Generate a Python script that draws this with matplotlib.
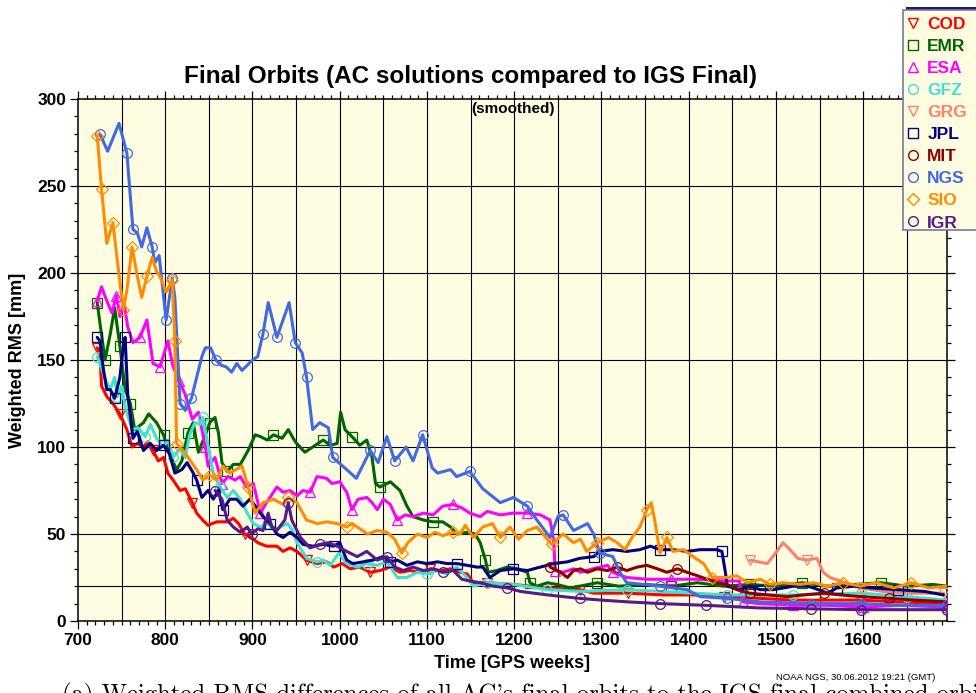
import matplotlib
matplotlib.use("Agg")
import matplotlib.pyplot as plt
from matplotlib.lines import Line2D
from matplotlib.patches import Rectangle
from matplotlib.ticker import MultipleLocator

plt.rcParams["font.family"] = ["Liberation Sans", "DejaVu Sans"]

# ---- data (GPS week, weighted RMS in mm) ----
cod_w = [722, 725, 727, 733, 740, 748, 756, 762, 768, 775, 780, 786, 792, 798, 803, 809,
         817, 823, 831, 836, 843, 849, 859, 871, 878, 884, 891, 899, 906, 916, 928, 935,
         943, 951, 962, 974, 985, 993, 1003, 1012, 1023, 1035, 1046, 1058, 1069, 1081,
         1092, 1104, 1115, 1127, 1138, 1146, 1153, 1169, 1199, 1238, 1275, 1291, 1330,
         1370, 1405, 1440, 1482, 1520, 1560, 1597, 1640, 1696]
cod_v = [157, 154, 135, 129, 125, 119, 110, 100, 102, 100, 103, 98, 92, 94, 85, 81,
         75, 76, 68, 62, 58, 55, 57, 57, 59, 56, 50, 48, 45, 43, 43, 40,
         42, 40, 35, 33, 34, 31, 33, 30, 31, 28, 29, 31, 28, 29,
         28, 30, 29, 30, 28, 27, 22, 22, 21, 19, 18, 16, 16,
         15, 15, 14, 13, 12, 12, 12, 11, 10]

emr_w = [722, 726, 731, 737, 742, 748, 754, 760, 765, 775, 781, 790, 798, 805, 813, 819,
         826, 832, 838, 846, 851, 857, 861, 865, 871, 878, 886, 895, 903, 909, 917, 924,
         934, 941, 949, 960, 969, 981, 989, 997, 1001, 1006, 1014, 1023, 1031, 1037, 1041,
         1046, 1058, 1069, 1077, 1084, 1096, 1107, 1118, 1127, 1134, 1146, 1155, 1161,
         1167, 1170, 1180, 1192, 1203, 1215, 1218, 1226, 1238, 1249, 1264, 1275, 1295,
         1320, 1350, 1380, 1410, 1440, 1470, 1500, 1530, 1560, 1590, 1620, 1650, 1680, 1696]
emr_v = [183, 168, 150, 165, 180, 158, 133, 125, 110, 114, 119, 114, 107, 96, 87, 92,
         108, 114, 97, 107, 114, 117, 108, 91, 86, 90, 90, 98, 107, 106, 104, 107,
         105, 110, 103, 97, 100, 104, 101, 102, 120, 110, 106, 101, 104, 94, 79,
         77, 80, 75, 66, 60, 58, 57, 57, 54, 50, 51, 50, 45,
         35, 28, 29, 31, 30, 28, 22, 20, 22, 21, 19, 20, 22,
         20, 21, 20, 22, 20, 21, 20, 22, 20, 21, 22, 20, 21, 20]

esa_w = [722, 727, 733, 739, 744, 748, 753, 757, 763, 771, 779, 786, 794, 803, 809, 816,
         823, 831, 838, 846, 849, 857, 865, 872, 880, 886, 893, 901, 909, 916, 928, 935,
         943, 951, 958, 966, 974, 985, 991, 1000, 1008, 1014, 1021, 1031, 1037, 1043,
         1050, 1058, 1066, 1075, 1084, 1096, 1107, 1118, 1130, 1140, 1149, 1161, 1169,
         1184, 1199, 1215, 1230, 1241, 1245, 1247, 1256, 1268, 1276, 1290, 1307, 1313,
         1329, 1352, 1380, 1410, 1440, 1458, 1462, 1480, 1520, 1560, 1600, 1640, 1696]
esa_v = [184, 192, 184, 177, 187, 175, 182, 169, 160, 163, 173, 148, 146, 161, 146, 138,
         130, 116, 120, 100, 89, 94, 79, 83, 81, 83, 77, 79, 62, 68, 77, 74,
         75, 72, 75, 74, 83, 82, 79, 80, 74, 64, 70, 71, 68, 64,
         70, 67, 58, 61, 60, 62, 61, 66, 67, 65, 62, 60, 63,
         61, 62, 62, 61, 58, 47, 29, 28, 30, 28, 30, 32, 28,
         25, 24, 24, 24, 23, 23, 11, 10, 9, 9, 8, 9, 8]

gfz_w = [722, 727, 732, 737, 742, 745, 750, 754, 762, 769, 777, 783, 790, 798, 803, 809,
         817, 823, 828, 834, 840, 843, 849, 855, 863, 871, 878, 886, 894, 901, 909, 917,
         928, 940, 946, 951, 962, 974, 981, 989, 999, 1008, 1020, 1031, 1043, 1054, 1066,
         1077, 1089, 1100, 1112, 1123, 1134, 1146, 1153, 1169, 1199, 1238, 1275, 1329,
         1367, 1444, 1520, 1597, 1650, 1696]
gfz_v = [152, 145, 138, 133, 140, 129, 135, 123, 110, 111, 106, 113, 105, 100, 104, 94,
         99, 94, 107, 114, 113, 117, 101, 85, 77, 71, 75, 70, 62, 56, 54, 56,
         53, 56, 52, 45, 36, 34, 35, 32, 39, 33, 31, 33, 32, 34, 25,
         25, 28, 27, 29, 27, 31, 25, 20, 22, 21, 18, 17, 18,
         17, 15, 15, 16, 14, 12]

grg_w = [1470, 1480, 1490, 1501, 1508, 1516, 1525, 1535, 1547, 1554, 1562, 1574, 1585,
         1597, 1623, 1654, 1692]
grg_v = [35, 34, 33, 40, 45, 41, 36, 35, 36, 28, 25, 23, 21, 19, 17, 16, 16]

jpl_w = [722, 725, 729, 733, 737, 742, 748, 752, 754, 757, 763, 768, 775, 783, 790, 798,
         805, 811, 819, 825, 831, 836, 842, 849, 855, 861, 866, 874, 882, 889, 897, 905,
         912, 920, 928, 935, 943, 951, 958, 969, 981, 993, 1000, 1008, 1015, 1027, 1038,
         1050, 1058, 1066, 1077, 1089, 1100, 1112, 1123, 1134, 1146, 1157, 1164, 1172,
         1184, 1199, 1215, 1230, 1245, 1261, 1275, 1291, 1298, 1313, 1329, 1344, 1356,
         1367, 1382, 1398, 1413, 1432, 1438, 1442, 1444, 1459, 1470, 1482, 1497, 1520,
         1536, 1543, 1559, 1570, 1589, 1610, 1640, 1670, 1692]
jpl_v = [163, 161, 145, 133, 133, 128, 140, 158, 163, 130, 105, 109, 98, 102, 98, 101,
         96, 85, 87, 91, 86, 81, 71, 75, 70, 75, 64, 70, 70, 66, 70, 65,
         60, 56, 50, 48, 51, 48, 44, 43, 44, 43, 45, 35, 33, 34, 35,
         37, 34, 35, 32, 34, 33, 34, 33, 33, 32, 31, 31, 25,
         29, 30, 29, 31, 33, 34, 36, 37, 40, 41, 40, 41, 43,
         41, 41, 40, 41, 41, 40, 28, 20, 18, 20, 18, 18, 20,
         20, 19, 16, 19, 20, 19, 18, 17, 15]

mit_w = [1241, 1245, 1253, 1261, 1268, 1276, 1284, 1295, 1307, 1318, 1329, 1341, 1352,
         1364, 1375, 1387, 1398, 1410, 1421, 1433, 1444, 1455, 1470, 1490, 1513, 1532,
         1555, 1574, 1597, 1630, 1660, 1696]
mit_v = [31, 30, 28, 25, 29, 30, 28, 30, 29, 31, 29, 31, 32,
         30, 28, 30, 28, 26, 24, 22, 21, 18, 16, 15, 14, 15,
         16, 15, 14, 13, 12, 11]

ngs_w = [725, 734, 747, 756, 763, 768, 773, 779, 785, 788, 793, 801, 808, 811, 817, 823,
         830, 836, 842, 846, 852, 858, 864, 870, 876, 882, 888, 894, 900, 906, 912, 918,
         928, 942, 949, 957, 962, 969, 977, 987, 992, 1008, 1019, 1035, 1044, 1054, 1063,
         1076, 1084, 1095, 1106, 1112, 1127, 1134, 1149, 1164, 1184, 1199, 1215, 1226,
         1241, 1250, 1256, 1268, 1284, 1291, 1298, 1313, 1321, 1329, 1367, 1398, 1413,
         1444, 1482, 1540, 1597, 1650, 1696]
ngs_v = [280, 270, 286, 269, 225, 223, 215, 226, 215, 206, 210, 173, 197, 186, 125, 121,
         128, 140, 152, 157, 157, 150, 147, 146, 143, 148, 144, 147, 150, 152, 165, 183,
         163, 183, 160, 154, 140, 110, 114, 111, 94, 87, 82, 98, 91, 106, 92,
         100, 92, 107, 88, 85, 87, 83, 86, 76, 68, 71, 66, 58,
         48, 60, 61, 52, 56, 50, 39, 37, 28, 22, 20, 18, 14,
         13, 11, 10, 10, 9, 9]

sio_w = [722, 727, 733, 740, 746, 752, 756, 762, 768, 773, 779, 785, 790, 794, 801, 808,
         811, 813, 822, 836, 843, 851, 859, 866, 874, 888, 895, 903, 912, 924, 935, 941,
         951, 962, 974, 985, 997, 1008, 1014, 1023, 1032, 1043, 1054, 1063, 1071, 1078,
         1089, 1100, 1109, 1118, 1130, 1138, 1144, 1153, 1164, 1175, 1184, 1195, 1205,
         1215, 1226, 1238, 1243, 1256, 1268, 1276, 1283, 1295, 1308, 1318, 1327, 1335,
         1344, 1352, 1357, 1361, 1367, 1375, 1382, 1394, 1405, 1417, 1427, 1444, 1455,
         1467, 1482, 1493, 1508, 1528, 1543, 1559, 1577, 1597, 1615, 1635, 1655, 1675, 1696]
sio_v = [279, 248, 217, 229, 203, 179, 190, 215, 198, 186, 198, 209, 201, 198, 189, 196,
         161, 102, 97, 87, 81, 84, 81, 89, 85, 89, 77, 62, 68, 70, 67, 71,
         68, 58, 56, 57, 56, 54, 56, 53, 50, 52, 51, 47, 39, 45,
         50, 48, 51, 49, 51, 50, 55, 48, 54, 56, 48, 54, 47,
         52, 54, 47, 44, 50, 45, 47, 40, 45, 48, 45, 41, 48,
         54, 64, 68, 58, 39, 48, 40, 41, 37, 33, 25, 25, 26,
         22, 24, 21, 22, 21, 22, 20, 22, 20, 22, 19, 22, 19, 20]

igr_w = [857, 865, 871, 878, 886, 894, 899, 906, 912, 918, 922, 928, 934, 937, 941, 945,
         951, 955, 966, 977, 987, 997, 1008, 1020, 1031, 1043, 1054, 1063, 1073, 1084,
         1096, 1107, 1118, 1130, 1140, 1149, 1161, 1176, 1192, 1207, 1222, 1238, 1256,
         1275, 1300, 1330, 1367, 1420, 1482, 1540, 1597, 1650, 1696]
igr_v = [75, 70, 58, 54, 51, 54, 50, 53, 52, 62, 54, 52, 56, 58, 68, 58,
         52, 48, 42, 44, 45, 43, 40, 37, 40, 35, 37, 31, 29, 31,
         29, 30, 28, 29, 24, 23, 22, 20, 19, 17, 16, 15, 14,
         13, 12, 11, 10, 9, 7.5, 7, 6.5, 6.5, 6.5]

series = [
    ("COD", cod_w, cod_v, "#ff0000", "v"),
    ("EMR", emr_w, emr_v, "#006400", "s"),
    ("ESA", esa_w, esa_v, "#ff00ff", "^"),
    ("GFZ", gfz_w, gfz_v, "#40e0d0", "o"),
    ("GRG", grg_w, grg_v, "#fa8072", "v"),
    ("JPL", jpl_w, jpl_v, "#000080", "s"),
    ("MIT", mit_w, mit_v, "#8b0000", "o"),
    ("NGS", ngs_w, ngs_v, "#4169e1", "o"),
    ("SIO", sio_w, sio_v, "#ff8c00", "D"),
    ("IGR", igr_w, igr_v, "#551a8b", "o"),
]

fig = plt.figure(figsize=(9.76, 6.93), dpi=100)
ax = fig.add_axes([78 / 976, 1 - 621 / 693, (947 - 78) / 976, (621 - 99) / 693])
ax.set_facecolor("#fffde1")

for name, w, v, col, mk in series:
    ax.plot(w, v, color=col, lw=2.2, marker=mk, ms=7 if mk != "D" else 6,
             mfc="none", mec=col, mew=0.9, markevery=0.07,
             solid_joinstyle="round", solid_capstyle="round", zorder=3)

ax.set_xlim(700, 1696)
ax.set_ylim(0, 300)

# grid lines
for xg in range(750, 1700, 50):
    ax.axvline(xg, color="black", lw=0.8, zorder=1)
for yg in [20, 50, 100, 150, 200, 250]:
    ax.axhline(yg, color="black", lw=0.8, zorder=1)

ax.xaxis.set_major_locator(MultipleLocator(100))
ax.xaxis.set_minor_locator(MultipleLocator(10))
ax.yaxis.set_major_locator(MultipleLocator(50))
ax.yaxis.set_minor_locator(MultipleLocator(10))
ax.tick_params(which="both", direction="out", top=True, right=True, width=0.9)
ax.tick_params(which="major", length=5.5, labelsize=12.5, pad=3)
ax.tick_params(which="minor", length=2.8)
for lab in ax.get_xticklabels() + ax.get_yticklabels():
    lab.set_fontweight("bold")
for sp in ax.spines.values():
    sp.set_linewidth(1.1)

ax.set_xlabel("Time [GPS weeks]", fontsize=13, fontweight="bold", labelpad=5)
ax.set_ylabel("Weighted RMS [mm]", fontsize=13, fontweight="bold", labelpad=8)

fig.text(470 / 976, 1 - 76 / 693, "Final Orbits (AC solutions compared to IGS Final)",
         ha="center", va="center", fontsize=17.5, fontweight="bold")
ax.text(0.5, 0.995, "(smoothed)", transform=ax.transAxes, ha="center", va="top",
        fontsize=11, fontweight="bold")
fig.text(935 / 976, 1 - 678 / 693, "NOAA NGS, 30.06.2012 19:21 (GMT)",
         ha="right", va="center", fontsize=6.8)
fig.text(62 / 976, 1 - 683 / 693,
         "(a) Weighted RMS differences of all AC's final orbits to the IGS final combined orbit",
         ha="left", va="top", fontsize=17.8, family=["cmr10", "DejaVu Serif"])

# legend box
fig.patches.append(Rectangle((906 / 976, 1 - 11 / 693), 0.1, 4 / 693,
                             transform=fig.transFigure, facecolor="#1a1a6e",
                             edgecolor="none", zorder=4))
fig.patches.append(Rectangle((903 / 976, 1 - 230 / 693), 0.1, 220 / 693,
                             transform=fig.transFigure, facecolor="#fffde1",
                             edgecolor="#7878a0", lw=1.2, zorder=5))
handles = [Line2D([], [], ls="none", marker=mk, ms=7 if mk != "D" else 6, mfc="none",
                  mec=col, mew=1.0) for _, _, _, col, mk in series]
labels = [s[0] for s in series]
leg = fig.legend(handles, labels, loc="upper left",
                 bbox_to_anchor=(903 / 976, 1 - 13 / 693), frameon=False,
                 fontsize=12.5, handlelength=0.8, handletextpad=0.4,
                 labelspacing=0.4, borderpad=0.2, borderaxespad=0)
leg.set_zorder(6)
for txt, (_, _, _, col, _) in zip(leg.get_texts(), series):
    txt.set_color(col)
    txt.set_fontweight("bold")

fig.savefig("out.png", dpi=100)
